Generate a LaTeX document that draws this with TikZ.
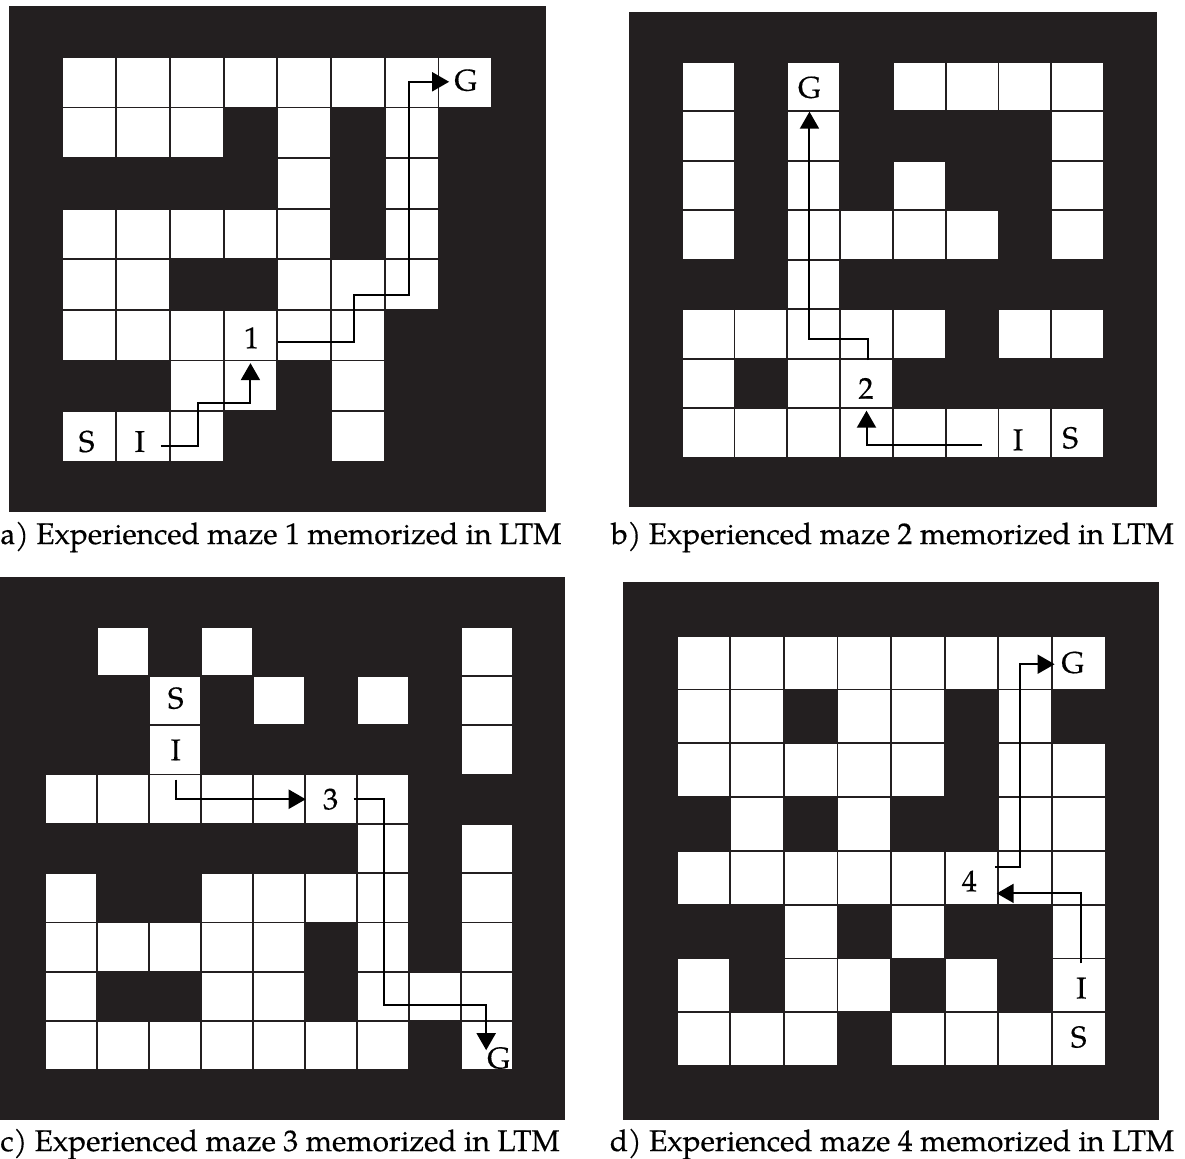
\documentclass[tikz,border=0pt]{standalone}
\usepackage{fontspec}
\setmainfont{texgyrepagella-regular.otf}[FakeBold=0.4]
\usetikzlibrary{arrows.meta}

\definecolor{mazeblack}{RGB}{35,31,32}

\tikzset{
  wall/.style={fill=mazeblack},
  opencell/.style={fill=white, draw=mazeblack, line width=0.9pt},
  cellname/.style={font=\fontsize{15}{17}\selectfont, inner sep=1pt},
  route/.style={draw=black, line width=1pt},
  routetip/.style={route, -{Triangle[length=8.5pt,width=9.5pt]}},
  mazecaption/.style={font=\fontsize{14.9}{17}\selectfont, inner sep=0pt, anchor=base}
}

\begin{document}
\begin{tikzpicture}[x=0.5pt, y=-0.5pt]
  \useasboundingbox (0,0) rectangle (1185,1159);

  % maze 1 (top left), 8x8 cells inside a one-cell wall
  \begin{scope}[shift={(62.5,57)}, x=26.85pt, y=-25.3pt]
    \fill[wall] (-1,-1) rectangle (9,9);
    \foreach \r/\cols in {1/{1,2,3,4,5,6,7,8}, 2/{1,2,3,5,7}, 3/{5,7},
                          4/{1,2,3,4,5,7}, 5/{1,2,5,6,7}, 6/{1,2,3,4,5,6},
                          7/{3,4,6}, 8/{1,2,3,6}} {
      \foreach \c in \cols {
        \filldraw[opencell] (\c-1,\r-1) rectangle (\c,\r);
      }
    }
    \node[cellname] (a-S) at (0.45,7.6) {S};
    \node[cellname] (a-I) at (1.44,7.6) {I};
    \node[cellname] (a-1) at (3.52,5.55) {1};
    \node[cellname] (a-G) at (7.51,0.46) {G};
    \coordinate (a-start) at (1.83,7.69);
    \coordinate (a-at1) at (3.5,6.05);
    \coordinate (a-leave1) at (4.02,5.64);
    \coordinate (a-atG) at (7.2,0.49);
    \draw[routetip] (a-start) -| (2.53,6.84) -| (a-at1);
    \draw[routetip] (a-leave1) -| (5.42,4.70) -| (6.45,0.49) -- (a-atG);
  \end{scope}

  % maze 2 (top right)
  \begin{scope}[shift={(681.7,61.7)}, x=26.4pt, y=-24.75pt]
    \fill[wall] (-1,-1) rectangle (9,9);
    \foreach \r/\cols in {1/{1,3,5,6,7,8}, 2/{1,3,8}, 3/{1,3,5,8},
                          4/{1,3,4,5,6,8}, 5/{3}, 6/{1,2,3,4,5,7,8},
                          7/{1,3,4}, 8/{1,2,3,4,5,6,7,8}} {
      \foreach \c in \cols {
        \filldraw[opencell] (\c-1,\r-1) rectangle (\c,\r);
      }
    }
    \node[cellname] (b-G) at (2.42,0.52) {G};
    \node[cellname] (b-2) at (3.49,6.6) {2};
    \node[cellname] (b-I) at (6.37,7.64) {I};
    \node[cellname] (b-S) at (7.36,7.6) {S};
    \coordinate (b-start) at (5.69,7.74);
    \coordinate (b-at2) at (3.5,7.05);
    \coordinate (b-leave2) at (3.52,6.03);
    \coordinate (b-atG) at (2.42,1.01);
    \draw[routetip] (b-start) -| (b-at2);
    \draw[routetip] (b-leave2) |- (2.42,5.61) -- (b-atG);
  \end{scope}

  % maze 3 (bottom left), 9x9 cells
  \begin{scope}[shift={(44.7,626.7)}, x=26pt, y=-24.65pt]
    \fill[wall] (-1,-1) rectangle (10,10);
    \foreach \r/\cols in {1/{2,4,9}, 2/{3,5,7,9}, 3/{3,9},
                          4/{1,2,3,4,5,6,7}, 5/{7,9}, 6/{1,4,5,6,7,9},
                          7/{1,2,3,4,5,7,9}, 8/{1,4,5,7,8,9},
                          9/{1,2,3,4,5,6,7,9}} {
      \foreach \c in \cols {
        \filldraw[opencell] (\c-1,\r-1) rectangle (\c,\r);
      }
    }
    \node[cellname] (c-S) at (2.52,1.45) {S};
    \node[cellname] (c-I) at (2.52,2.5) {I};
    \node[cellname] (c-3) at (5.5,3.5) {3};
    \node[cellname] (c-G) at (8.73,8.75) {G};
    \coordinate (c-start) at (2.52,3.1);
    \coordinate (c-at3) at (5.02,3.5);
    \coordinate (c-leave3) at (5.94,3.5);
    \coordinate (c-atG) at (8.49,8.59);
    \draw[routetip] (c-start) |- (c-at3);
    \draw[routetip] (c-leave3) -| (6.52,7.67) -| (c-atG);
  \end{scope}

  % maze 4 (bottom right)
  \begin{scope}[shift={(676.7,635.7)}, x=26.8pt, y=-26.9pt]
    \fill[wall] (-1,-1) rectangle (9,9);
    \foreach \r/\cols in {1/{1,2,3,4,5,6,7,8}, 2/{1,2,4,5,7}, 3/{1,2,3,4,5,7,8},
                          4/{2,4,7,8}, 5/{1,2,3,4,5,6,7,8}, 6/{3,5,8},
                          7/{1,3,4,6,8}, 8/{1,2,3,5,6,7,8}} {
      \foreach \c in \cols {
        \filldraw[opencell] (\c-1,\r-1) rectangle (\c,\r);
      }
    }
    \node[cellname] (d-G) at (7.39,0.5) {G};
    \node[cellname] (d-4) at (5.46,4.56) {4};
    \node[cellname] (d-I) at (7.55,6.55) {I};
    \node[cellname] (d-S) at (7.5,7.46) {S};
    \coordinate (d-start) at (7.55,6.09);
    \coordinate (d-at4) at (5.97,4.79);
    \coordinate (d-leave4) at (5.94,4.30);
    \coordinate (d-atG) at (7.05,0.53);
    \draw[routetip] (d-start) |- (d-at4);
    \draw[routetip] (d-leave4) -| (6.41,0.53) -- (d-atG);
  \end{scope}

  % captions
  \node[mazecaption, anchor=base west] (cap-a) at (0,544) {a) Experienced maze 1 memorized in LTM};
  \node[mazecaption] (cap-b) at (892.5,544) {b) Experienced maze 2 memorized in LTM};
  \node[mazecaption, anchor=base west] (cap-c) at (0,1151) {c) Experienced maze 3 memorized in LTM};
  \node[mazecaption] (cap-d) at (892,1151) {d) Experienced maze 4 memorized in LTM};
\end{tikzpicture}
\end{document}
